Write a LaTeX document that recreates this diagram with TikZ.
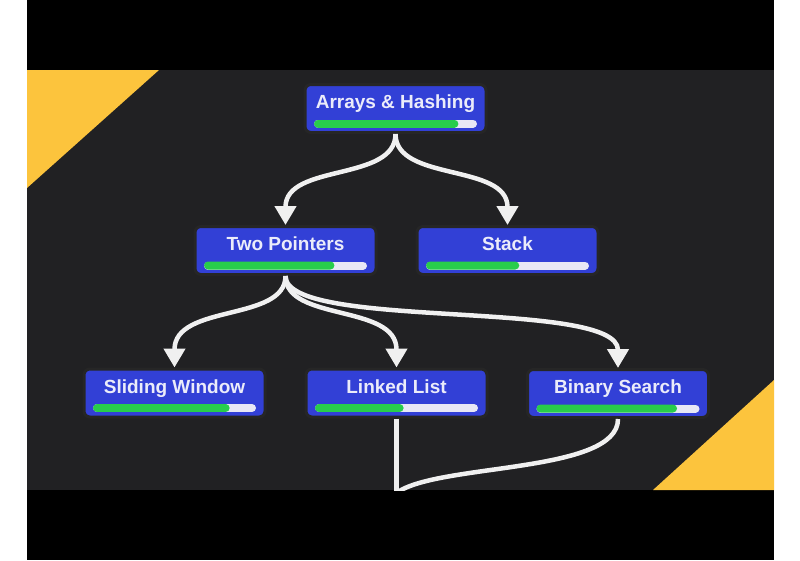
\documentclass[tikz,border=0pt]{standalone}
\usepackage{fontspec}
\setmainfont{Liberation Sans}
\usetikzlibrary{arrows.meta, calc}
\definecolor{bgdark}    {RGB}{33,  33,  35}
\definecolor{topicblue} {RGB}{50,  64, 214}
\definecolor{barwhite}  {RGB}{232, 232, 245}
\definecolor{bargreen}  {RGB}{40, 205,  75}
\definecolor{corneryel} {RGB}{252, 196,  61}
\definecolor{labelwhite}{RGB}{235, 236, 250}
\definecolor{flowwhite} {RGB}{240, 240, 240}

\tikzset{
  topic/.style={draw=black!85, line width=3pt, fill=topicblue,
    rounded corners=6pt, minimum width=181pt, minimum height=48pt,
    inner sep=0pt, text=labelwhite, text height=14pt, text depth=14pt,
    font=\bfseries\fontsize{19}{23}\selectfont},
  flow/.style={draw=flowwhite, line width=4.5pt,
    -{Triangle[width=21pt,length=19pt]}},
  trunk/.style={draw=flowwhite, line width=4.5pt}
}

% progress bar under a topic: node name, share done
\newcommand{\progressbar}[2]{%
  \coordinate (#1-b0) at ($(#1.south west)+(14.5,-10.5)$);
  \coordinate (#1-b1) at ($(#1.south east)+(-14.5,-10.5)$);
  \draw[barwhite, line width=8pt, line cap=round] (#1-b0) -- (#1-b1);
  \draw[bargreen, line width=8pt, line cap=round] (#1-b0) -- ($(#1-b0)!#2!(#1-b1)$);
}

\begin{document}
\begin{tikzpicture}[x=1pt, y=-1pt]
        \useasboundingbox (0,0) rectangle (800,560);

        % Frame
        \fill[white] (0,0) rectangle (800,560);
        \fill[black] (27,0) rectangle (774,560);
        \fill[bgdark] (27,70) rectangle (774,490);

        % Corners
        \fill[corneryel] (27,70) -- (159,70) -- (27,188) -- cycle;
        \fill[corneryel] (774,380) -- (774,490) -- (653,490) -- cycle;

        \begin{scope}
        \clip (27,70) rectangle (774,490);

        % Topics
        \node[topic] (arrays) at (395.5,108.5) {Arrays \& Hashing};
        \node[topic] (twoptr) at (285.5,250.5) {Two Pointers};
        \node[topic] (stack)  at (507.5,250.5) {Stack};
        \node[topic] (window) at (174.5,393)   {Sliding Window};
        \node[topic] (linked) at (396.5,393)   {Linked List};
        \node[topic] (binary) at (618,393.5)   {Binary Search};
        \coordinate (onward) at (396.5,493);

        % Progress
        \progressbar{arrays}{0.88}
        \progressbar{twoptr}{0.79}
        \progressbar{stack}{0.55}
        \progressbar{window}{0.83}
        \progressbar{linked}{0.52}
        \progressbar{binary}{0.855}

        % Links
        \draw[flow] (arrays.south) .. controls +(0,48) and +(0,-62) .. (twoptr.north);
        \draw[flow] (arrays.south) .. controls +(0,48) and +(0,-62) .. (stack.north);
        \draw[flow] (twoptr.south) .. controls +(0,46) and +(0,-64) .. (window.north);
        \draw[flow] (twoptr.south) .. controls +(0,46) and +(0,-64) .. (linked.north);
        \draw[flow] (twoptr.south) .. controls +(0,55) and +(0,-70) .. (binary.north);
        \draw[trunk] (linked.south) -- (onward);
        \draw[trunk] (binary.south) .. controls +(0,55) and +(40,-30) .. (onward);
        \end{scope}
      \end{tikzpicture}
\end{document}
